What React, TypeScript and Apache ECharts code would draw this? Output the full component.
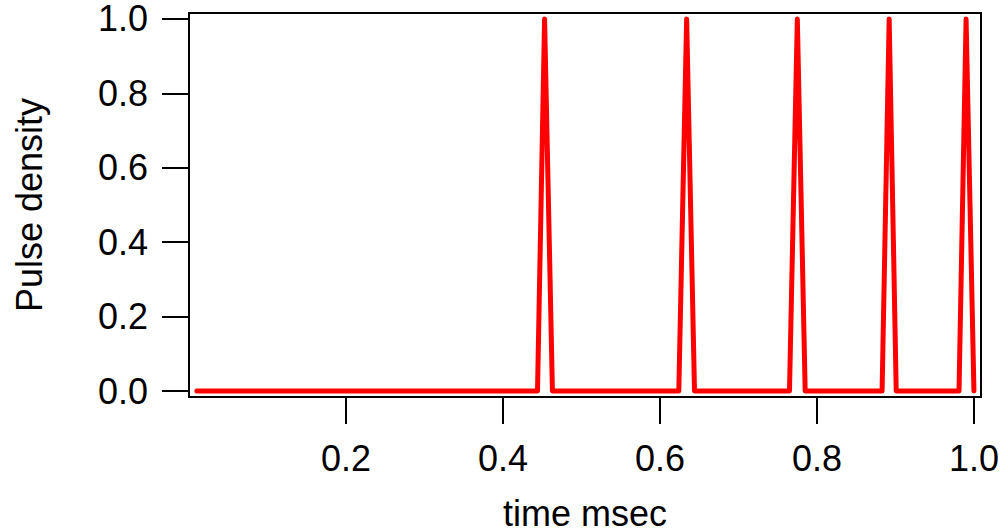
import React, { useEffect, useRef } from "react";
import * as echarts from "echarts";

// time (msec) and pulse density samples
const timeMs: number[] = [0.01, 0.444, 0.453, 0.463, 0.624, 0.634, 0.644, 0.765, 0.775, 0.785, 0.883, 0.892, 0.901, 0.981, 0.99, 1.0];
const density: number[] = [0, 0, 1, 0, 0, 1, 0, 0, 1, 0, 0, 1, 0, 0, 1, 0];
const xTicks: number[] = [0.2, 0.4, 0.6, 0.8, 1.0];
const yTicks: number[] = [0, 0.2, 0.4, 0.6, 0.8, 1.0];

const FONT = "'Liberation Sans', Arial, sans-serif";

export default function App() {
  const ref = useRef<HTMLDivElement>(null);
  useEffect(() => {
    if (!ref.current) return;
    const chart = echarts.init(ref.current, undefined, { renderer: "svg" });
    const data = timeMs.map((t, i) => [t, density[i]]);
    chart.setOption({
      animation: false,
      backgroundColor: "#ffffff",
      grid: {
        left: 189,
        right: 24,
        top: 13,
        bottom: 134,
        containLabel: false,
        outerBoundsMode: "none",
        show: true,
        borderColor: "#000000",
        borderWidth: 2,
        backgroundColor: "transparent",
      },
      xAxis: {
        type: "value",
        min: 0,
        max: 1.009,
        name: "time msec",
        nameLocation: "middle",
        nameGap: 101,
        nameTextStyle: { fontFamily: FONT, fontSize: 36, lineHeight: 30, color: "#000" },
        axisLine: { show: true, onZero: false, lineStyle: { color: "#000", width: 2 } },
        axisTick: {
          show: true,
          inside: false,
          length: 27,
          customValues: xTicks,
          lineStyle: { color: "#000", width: 2 },
        },
        axisLabel: {
          customValues: xTicks,
          margin: 43,
          fontFamily: FONT,
          fontSize: 36,
          color: "#000",
          formatter: (v: number) => v.toFixed(1),
        },
        splitLine: { show: false },
      },
      yAxis: {
        type: "value",
        min: -0.016,
        max: 1.016,
        name: "Pulse density",
        nameLocation: "middle",
        nameGap: 142,
        nameTextStyle: { fontFamily: FONT, fontSize: 36, color: "#000" },
        axisLine: { show: true, onZero: false, lineStyle: { color: "#000", width: 2 } },
        axisTick: {
          show: true,
          inside: false,
          length: 27,
          customValues: yTicks,
          lineStyle: { color: "#000", width: 2 },
        },
        axisLabel: {
          customValues: yTicks,
          margin: 41,
          fontFamily: FONT,
          fontSize: 36,
          lineHeight: 30,
          color: "#000",
          formatter: (v: number) => v.toFixed(1),
        },
        splitLine: { show: false },
      },
      series: [
        {
          type: "line",
          data,
          showSymbol: false,
          symbol: "none",
          lineStyle: { color: "#ff0000", width: 5, cap: "round", join: "round" },
        },
      ],
    });
    return () => chart.dispose();
  }, []);
  return (
    <div
      ref={ref}
      style={{ position: "absolute", left: 0, top: 0, width: 1005, height: 531 }}
    />
  );
}
